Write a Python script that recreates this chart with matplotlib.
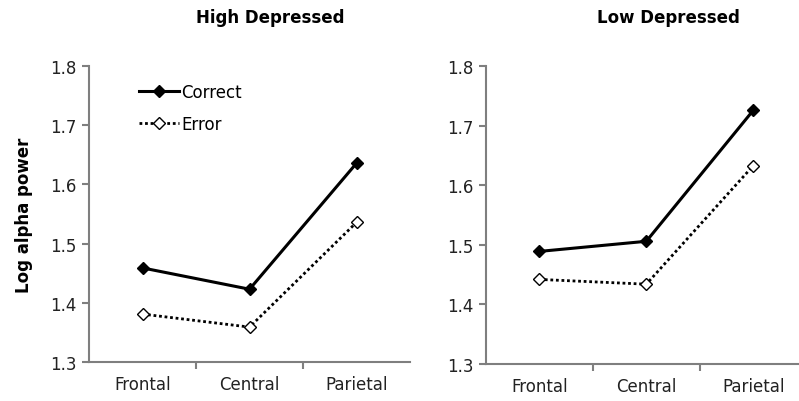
import matplotlib
matplotlib.use('Agg')
import matplotlib.pyplot as plt
import numpy as np

regions = ['Frontal', 'Central', 'Parietal']
high_correct = [1.459, 1.423, 1.636]
high_error = [1.381, 1.359, 1.536]
low_correct = [1.489, 1.506, 1.726]
low_error = [1.442, 1.434, 1.633]
yticks = [1.3, 1.4, 1.5, 1.6, 1.7, 1.8]

plt.rcParams['font.family'] = 'DejaVu Sans'
axis_col = '#7f7f7f'
txt_col = '#222222'

fig = plt.figure(figsize=(7.99, 4.02), dpi=100)
ax1 = fig.add_axes([0.1114, 0.097, 0.4018, 0.736])
ax2 = fig.add_axes([0.608, 0.092, 0.4018, 0.741])

x = np.arange(len(regions))

def draw(ax, correct, error):
    ax.plot(x, correct, color='black', lw=2.2, ls='-', marker='D', ms=6,
            mfc='black', mec='black', label='Correct')
    ax.plot(x, error, color='black', lw=2.0, ls=(0, (1, 1.0)), marker='D', ms=6,
            mfc='white', mec='black', mew=1.0, label='Error')
    ax.set_xlim(-0.5, 2.5)
    ax.set_ylim(1.3, 1.8)
    ax.set_yticks(yticks)
    ax.set_yticklabels([f'{v:.1f}' for v in yticks], fontsize=12, color=txt_col)
    ax.set_xticks(x)
    ax.set_xticklabels(regions, fontsize=12, color=txt_col)
    ax.tick_params(axis='x', which='major', length=0, pad=9)
    ax.set_xticks([0.5, 1.5], minor=True)
    ax.tick_params(axis='x', which='minor', length=5, width=1.5, color=axis_col, direction='out')
    ax.tick_params(axis='y', length=5, width=1.5, color=axis_col, direction='out', pad=4)
    for s in ['top', 'right']:
        ax.spines[s].set_visible(False)
    for s in ['left', 'bottom']:
        ax.spines[s].set_color(axis_col)
        ax.spines[s].set_linewidth(1.5)

draw(ax1, high_correct, high_error)
draw(ax2, low_correct, low_error)

ax1.set_ylabel('Log alpha power', fontsize=12, fontweight='bold', labelpad=12)
ax1.legend(loc='upper left', bbox_to_anchor=(0.108, 0.995), frameon=False, fontsize=12,
           handlelength=2.4, handletextpad=0.15, labelspacing=0.85)

fig.text(0.338, 0.955, 'High Depressed', ha='center', va='center', fontsize=12, fontweight='bold')
fig.text(0.837, 0.955, 'Low Depressed', ha='center', va='center', fontsize=12, fontweight='bold')

fig.savefig('out.png', dpi=100)
